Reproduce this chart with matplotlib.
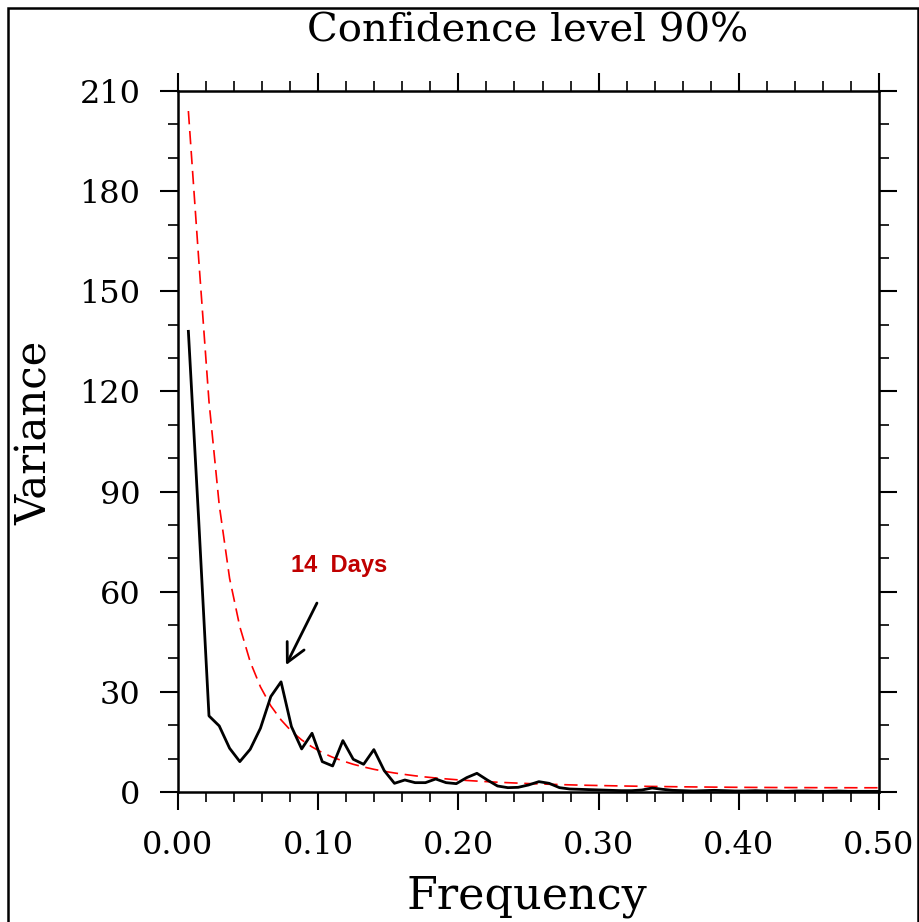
import matplotlib
matplotlib.use("Agg")
import matplotlib.pyplot as plt
from matplotlib.ticker import MultipleLocator, FormatStrFormatter
from matplotlib.patches import Rectangle

plt.rcParams['font.family'] = ['DejaVu Serif']

# frequencies (cycles/day), k/136
freq = [0.0074, 0.0147, 0.0221, 0.0294, 0.0368, 0.0441, 0.0515, 0.0588, 0.0662, 0.0735,
        0.0809, 0.0882, 0.0956, 0.1029, 0.1103, 0.1176, 0.1250, 0.1324, 0.1397, 0.1471,
        0.1544, 0.1618, 0.1691, 0.1765, 0.1838, 0.1912, 0.1985, 0.2059, 0.2132, 0.2206,
        0.2279, 0.2353, 0.2426, 0.2500, 0.2574, 0.2647, 0.2721, 0.2794, 0.2868, 0.2941,
        0.3015, 0.3088, 0.3162, 0.3235, 0.3309, 0.3382, 0.3456, 0.3529, 0.3603, 0.3676,
        0.3750, 0.3824, 0.3897, 0.3971, 0.4044, 0.4118, 0.4191, 0.4265, 0.4338, 0.4412,
        0.4485, 0.4559, 0.4632, 0.4706, 0.4779, 0.4853, 0.4926, 0.5000]

# spectrum
variance = [138, 82, 22.8, 19.8, 13.1, 9.1, 12.8, 19.1, 28.6, 33.0,
            19.6, 12.9, 17.6, 9.1, 7.8, 15.4, 9.8, 8.3, 12.7, 6.4,
            2.6, 3.6, 2.8, 2.8, 3.9, 2.8, 2.5, 4.3, 5.6, 3.6,
            1.8, 1.3, 1.4, 2.1, 3.1, 2.6, 1.3, 0.9, 0.8, 0.7,
            0.6, 0.5, 0.4, 0.4, 0.6, 1.2, 0.8, 0.5, 0.4, 0.3,
            0.4, 0.5, 0.4, 0.3, 0.3, 0.4, 0.3, 0.3, 0.2, 0.3,
            0.3, 0.2, 0.2, 0.3, 0.2, 0.2, 0.2, 0.2]

# red noise, 90% confidence
red_noise = [204, 160, 117, 86, 64, 49.5, 39, 31.5, 25.8, 21.6,
             18.2, 15.6, 13.5, 11.8, 10.4, 9.3, 8.3, 7.5, 6.8, 6.2,
             5.7, 5.25, 4.85, 4.5, 4.2, 3.93, 3.68, 3.46, 3.27, 3.09,
             2.93, 2.79, 2.66, 2.53, 2.42, 2.32, 2.23, 2.14, 2.06, 1.99,
             1.93, 1.87, 1.81, 1.76, 1.71, 1.67, 1.63, 1.59, 1.55, 1.52,
             1.49, 1.46, 1.44, 1.41, 1.39, 1.37, 1.36, 1.34, 1.33, 1.32,
             1.31, 1.30, 1.29, 1.28, 1.28, 1.27, 1.27, 1.27]

fig = plt.figure(figsize=(9.2, 9.22), dpi=100)
ax = fig.add_axes([178/920, 130/922, 701/920, 701/922])

ax.plot(freq, red_noise, color='red', lw=1.2, dashes=(8, 4))
ax.plot(freq, variance, color='black', lw=2)

ax.set_xlim(0, 0.5)
ax.set_ylim(0, 210)
ax.xaxis.set_major_locator(MultipleLocator(0.1))
ax.xaxis.set_minor_locator(MultipleLocator(0.02))
ax.xaxis.set_major_formatter(FormatStrFormatter('%.2f'))
ax.yaxis.set_major_locator(MultipleLocator(30))
ax.yaxis.set_minor_locator(MultipleLocator(10))

ax.tick_params(which='both', direction='out', top=True, right=True,
               labeltop=False, labelright=False)
ax.tick_params(which='major', length=13, width=1.5, labelsize=23, pad=14)
ax.tick_params(which='minor', length=7, width=1.2)
for sp in ax.spines.values():
    sp.set_linewidth(1.8)

# arrow + label for the 14 day peak
ax.annotate('', xy=(0.077, 38.0), xytext=(0.0991, 56.6),
            arrowprops=dict(arrowstyle='->, head_length=0.67, head_width=0.34',
                            lw=2, color='black', shrinkA=0, shrinkB=0,
                            mutation_scale=20))
ax.text(0.0806, 68.0, '14  Days', color='#C00000', fontsize=17,
        fontweight='bold', family=['Liberation Sans'], ha='left', va='center')

fig.text(528/920, (922-41)/922, 'Confidence level 90%', fontsize=29,
         ha='center', va='baseline')
fig.text(527/920, 14/922, 'Frequency', fontsize=32, ha='center', va='baseline')
fig.text(47/920, (922-433)/922, 'Variance', fontsize=30, rotation=90,
         rotation_mode='anchor', ha='center', va='baseline')

# outer frame
fig.patches.append(Rectangle((8/920, -0.1), 910/920, (914/922) + 0.1,
                             transform=fig.transFigure, fill=False,
                             lw=1.8, edgecolor='black'))

fig.savefig('out.png', dpi=100)
